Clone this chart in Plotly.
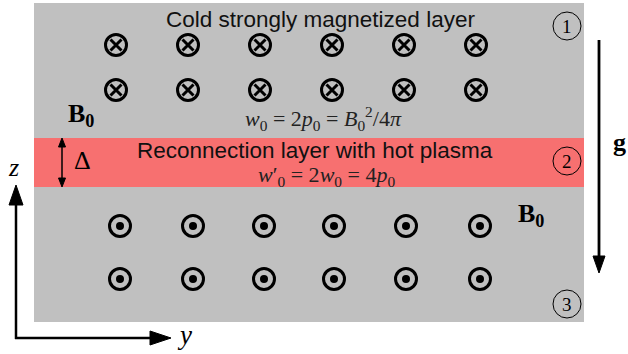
import plotly.graph_objects as go

# ---- diagram content (pixel-space positions) ----
cross_x = [116, 188, 260, 332, 404, 476]     # field into page (upper layer)
cross_y = [45, 90]
dot_x = [120, 193, 264, 334, 406, 480]       # field out of page (lower layer)
dot_y = [226, 279]

region_labels = ["1", "2", "3"]
region_label_y = [26, 161, 304]

title_top = "Cold strongly magnetized layer"
title_mid = "Reconnection layer with hot plasma"
eq_top = "<i>w</i><sub>0</sub> = 2<i>p</i><sub>0</sub> = <i>B</i><sub>0</sub><sup>2</sup>/4<i>π</i>"
eq_mid = "<i>w</i>′<sub>0</sub> = 2<i>w</i><sub>0</sub> = 4<i>p</i><sub>0</sub>"
b0_label = "<b>B</b><sub><b>0</b></sub>"

W, H = 628, 354
GRAY = "#C0C0C0"
RED = "#F77070"
SERIF = "Liberation Serif, DejaVu Serif, serif"
SANS = "Liberation Sans, Arial, sans-serif"

fig = go.Figure()

shapes = []
# layers
shapes.append(dict(type="rect", x0=34, x1=584, y0=3, y1=322, fillcolor=GRAY, line_width=0, layer="below"))
shapes.append(dict(type="rect", x0=34, x1=584, y0=138, y1=187, fillcolor=RED, line_width=0, layer="below"))

def arrow_line(x0, y0, x1, y1, w):
    return dict(type="line", x0=x0, y0=y0, x1=x1, y1=y1, line=dict(color="black", width=w))

def tri(points):
    p = "M " + " L ".join(f"{x},{y}" for x, y in points) + " Z"
    return dict(type="path", path=p, fillcolor="black", line=dict(color="black", width=1))

# z axis
shapes.append(arrow_line(16, 339, 16, 200, 2.5))
shapes.append(tri([(16, 185), (9, 205), (23, 205)]))
# y axis
shapes.append(arrow_line(15, 338, 155, 338, 2.5))
shapes.append(tri([(171, 338), (150, 331), (150, 345)]))
# gravity
shapes.append(arrow_line(599, 40, 599, 260, 2.8))
shapes.append(tri([(599, 273), (593, 256), (605, 256)]))
# Delta double arrow
shapes.append(arrow_line(62, 144, 62, 181, 1.5))
shapes.append(tri([(62, 138), (58.5, 147), (65.5, 147)]))
shapes.append(tri([(62, 187), (58.5, 178), (65.5, 178)]))
# circled region labels
for yy in region_label_y:
    shapes.append(dict(type="circle", x0=553, x1=581, y0=yy - 14, y1=yy + 14,
                       line=dict(color="black", width=1)))

# field symbols
cx = [x for y in cross_y for x in cross_x]
cy = [y for y in cross_y for x in cross_x]
dx = [x for y in dot_y for x in dot_x]
dy = [y for y in dot_y for x in dot_x]

fig.add_trace(go.Scatter(x=cx, y=cy, mode="markers", hoverinfo="skip",
                         marker=dict(symbol="circle-open", size=21, color="black",
                                     line=dict(width=3, color="black"))))
fig.add_trace(go.Scatter(x=cx, y=cy, mode="markers", hoverinfo="skip",
                         marker=dict(symbol="x-thin-open", size=11, color="black",
                                     line=dict(width=3, color="black"))))
fig.add_trace(go.Scatter(x=dx, y=dy, mode="markers", hoverinfo="skip",
                         marker=dict(symbol="circle-open", size=21, color="black",
                                     line=dict(width=3, color="black"))))
fig.add_trace(go.Scatter(x=dx, y=dy, mode="markers", hoverinfo="skip",
                         marker=dict(symbol="circle", size=8, color="black",
                                     line=dict(width=0))))

def txt(x, y, s, size, family, color="black"):
    return dict(x=x, y=y, xref="x", yref="y", text=s, showarrow=False,
                xanchor="center", yanchor="middle",
                font=dict(size=size, family=family, color=color))

annotations = [
    txt(320, 19, title_top, 22.5, SANS, "#111111"),
    txt(315, 150, title_mid, 22.5, SANS, "#111111"),
    txt(323, 118, eq_top, 22, SERIF, "#222222"),
    txt(326, 176, eq_mid, 22, SERIF, "#222222"),
    txt(81, 115, b0_label, 26, SERIF),
    txt(531, 215, b0_label, 26, SERIF),
    txt(619, 142, "<b>g</b>", 26, SERIF),
    txt(82, 160, "Δ", 26, SERIF),
    txt(13, 167, "<i>z</i>", 26, SERIF),
    txt(184, 335, "<i>y</i>", 27, SERIF),
]
for lab, yy in zip(region_labels, region_label_y):
    annotations.append(txt(567, yy, lab, 19, SERIF))

fig.update_layout(
    width=W, height=H, margin=dict(l=0, r=0, t=0, b=0),
    paper_bgcolor="white", plot_bgcolor="white", showlegend=False,
    shapes=shapes, annotations=annotations,
    xaxis=dict(range=[0, W], visible=False, fixedrange=True),
    yaxis=dict(range=[H, 0], visible=False, fixedrange=True),
)
for tr in fig.data:
    tr.cliponaxis = False

fig.write_html("out.html", config={"displayModeBar": False},
               post_script="document.body.style.margin='0px';document.body.style.overflow='hidden';")
